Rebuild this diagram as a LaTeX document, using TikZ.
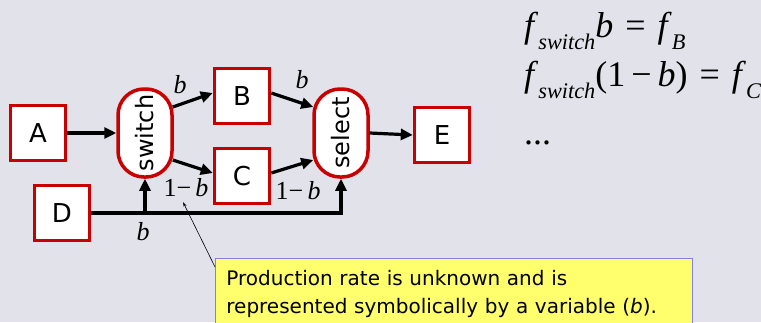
\documentclass[tikz,border=0pt]{standalone}
\usepackage{fontspec}
\newfontfamily\comic{DejaVu Sans}
\newfontfamily\tms{Liberation Serif}
\newcommand\eqsub[1]{\raisebox{-0.33em}{\fontsize{0.62em}{1em}\selectfont\itshape #1}}
\usetikzlibrary{arrows.meta,calc}
\definecolor{bgc}{RGB}{226,227,234}
\definecolor{redb}{RGB}{200,0,0}
\definecolor{yel}{RGB}{255,255,110}
\definecolor{calb}{RGB}{130,130,220}
\tikzset{
  box/.style={draw=redb, line width=3.5pt, fill=white, minimum width=55pt, minimum height=55pt, inner sep=0pt, font=\comic\fontsize{26}{30}\selectfont},
  pill/.style={draw=redb, line width=3.5pt, fill=white, minimum width=54pt, minimum height=88pt, rounded corners=26pt, inner sep=0pt},
  pilltext/.style={rotate=90, font=\comic\fontsize{24}{28}\selectfont},
  arr/.style={line width=3.2pt, -{Triangle[length=12pt,width=11pt]}},
  lbl/.style={font=\tms\fontsize{26}{30}\selectfont},
  eq/.style={anchor=west, font=\tms\fontsize{36}{40}\selectfont, inner sep=0pt},
  callout/.style={draw=calb, line width=0.8pt, fill=yel, anchor=north west, align=left, text width=455pt, minimum width=476pt, minimum height=72pt, inner xsep=11pt, inner ysep=1pt, font=\comic\fontsize{20}{28}\selectfont}
}
\begin{document}
\begin{tikzpicture}[x=1pt,y=-1pt]
\path[use as bounding box, fill=bgc] (0,0) rectangle (761,322);
\begin{scope}
\clip (0,0) rectangle (761,322);
\node[callout] (cal) at (215,258) {Production rate is unknown and is\\represented symbolically by a variable (\textit{b}).};
\end{scope}
\node[box] (A) at (38,133) {A};
\node[pill] (sw) at (145,133) {};
\node[pilltext] at (sw.center) {switch};
\node[box] (B) at (242,96) {B};
\node[box] (C) at (242,176) {C};
\node[pill] (sel) at (341,133) {};
\node[pilltext] at (sel.center) {select};
\node[box] (D) at (62,213) {D};
\node[box] (E) at (442,135) {E};
% connectors
\draw[arr] (A.east) -- (sw.west);
\draw[arr] ($(sw.east)+(-1,-26)$) -- ($(B.west)+(0,-3)$);
\draw[arr] ($(sw.east)+(-1,27)$) -- ($(C.west)+(0,-3)$);
\draw[arr] ($(B.east)+(0,-3)$) -- ($(sel.west)+(1,-26)$);
\draw[arr] ($(C.east)+(0,-3)$) -- ($(sel.west)+(1,27)$);
\draw[arr] (sel.east) -- (E.west);
\draw[arr] (D.east) -| (sel.south);
\coordinate (j) at (sw.south |- D.east);
\draw[arr] (j) -- (sw.south);
% labels
\node[lbl] (lb1) at (180,85) {\itshape b};
\node[lbl] (lb2) at (302,80) {\itshape b};
\node[lbl] (lb3) at (186,188) {1−\,\itshape b};
\node[lbl] (lb4) at (298,191) {1−\,\itshape b};
\node[lbl] (lb5) at (143,232) {\itshape b};
% callout pointer
\coordinate (tip) at (183,202);
\draw[line width=0.6pt, -{Stealth[length=5pt,width=3pt]}] ($(cal.north west)+(0,9)$) -- (tip);
% equations
\node[eq] (e1) at (524,31) {\textit{f}\eqsub{switch}\textit{b}\,\,=\,\,\textit{f}\eqsub{B}};
\node[eq] (e2) at (524,80) {\textit{f}\eqsub{switch}(1\,−\,\textit{b})\,\,=\,\,\textit{f}\eqsub{C}};
\node[eq] (e3) at (524,143) {...};
\end{tikzpicture}
\end{document}
